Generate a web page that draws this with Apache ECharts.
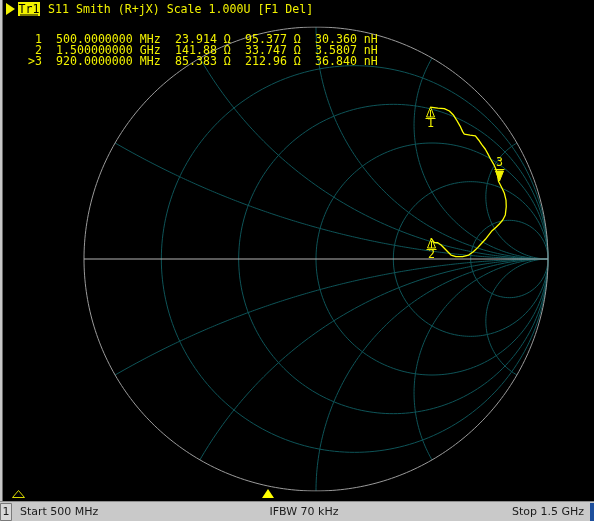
<!DOCTYPE html>
<html>
<head>
<meta charset="utf-8">
<script src="https://cdn.jsdelivr.net/npm/echarts@6/dist/echarts.min.js"></script>
<style>
  html, body { margin: 0; padding: 0; background: #000; }
  #chart { width: 594px; height: 521px; }
</style>
</head>
<body>
<div id="chart"></div>
<script>
// S11 trace as reflection coefficient, 500 MHz -> 1.5 GHz
const traceRe = [0.492,0.525,0.553,0.575,0.592,0.606,0.621,0.632,0.639,0.664,0.687,0.701,0.714,0.730,0.741,0.753,0.766,0.776,0.782,0.787,0.794,0.802,0.812,0.819,0.820,0.816,0.805,0.790,0.776,0.759,0.744,0.730,0.714,0.697,0.678,0.658,0.632,0.603,0.582,0.568,0.553,0.539,0.525,0.510,0.495];
const traceIm = [0.655,0.650,0.648,0.638,0.621,0.599,0.573,0.549,0.538,0.534,0.531,0.513,0.494,0.473,0.453,0.430,0.408,0.386,0.362,0.334,0.326,0.305,0.283,0.254,0.225,0.190,0.168,0.151,0.137,0.122,0.103,0.085,0.068,0.049,0.031,0.017,0.010,0.010,0.017,0.031,0.046,0.060,0.070,0.071,0.089];

// Marker readouts
const markerIds = ['1', '2', '3'];
const markerFreqs = [500, 1.5, 920];
const markerUnits = ['MHz', 'GHz', 'MHz'];
const markerR = [23.914, 141.88, 85.383];
const markerX = [95.377, 33.747, 212.96];
const markerL = [30.360, 3.5807, 36.840];
const activeMarker = 2;
const z0 = 50;

// Smith chart grid: constant resistance circles and constant reactance arcs
const gridR = [0.2, 0.5, 1, 2, 5];
const gridX = [0.268, 0.577, 1, 1.732, 3.732];

const headerText = 'S11 Smith (R+jX) Scale 1.000U [F1 Del]';
const statusStart = 'Start 500 MHz';
const statusIfbw = 'IFBW 70 kHz';
const statusStop = 'Stop 1.5 GHz';

const YELLOW = '#f2f200';
const GRID = '#0e5458';
const MONO = '11.6px "DejaVu Sans Mono", "Liberation Mono", monospace';

function gammaOf(R, X) {
  const r = R / z0, x = X / z0;
  const nr = r - 1, ni = x, dr = r + 1, di = x;
  const d = dr * dr + di * di;
  return [(nr * dr + ni * di) / d, (ni * dr - nr * di) / d];
}

function circlePoints(cx, cy, rad, a0, a1, n) {
  const pts = [];
  for (let i = 0; i <= n; i++) {
    const a = a0 + (a1 - a0) * i / n;
    pts.push([cx + rad * Math.cos(a), cy + rad * Math.sin(a)]);
  }
  return pts;
}

const series = [];
function gridLine(data, color) {
  series.push({
    type: 'line', data, symbol: 'none', silent: true, animation: false,
    lineStyle: { color, width: 1 }, z: 1
  });
}

gridR.forEach(r => {
  gridLine(circlePoints(r / (r + 1), 0, 1 / (r + 1), 0, 2 * Math.PI, 240), GRID);
});
gridX.forEach(x => {
  const c = 1 / x;
  const bRe = (x * x - 1) / (x * x + 1), bIm = 2 * x / (x * x + 1);
  let end = Math.atan2(bIm - c, bRe - 1);
  if (end > -Math.PI / 2) end -= 2 * Math.PI;
  const upper = circlePoints(1, c, c, -Math.PI / 2, end, 200);
  gridLine(upper, GRID);
  gridLine(upper.map(p => [p[0], -p[1]]), GRID);
});
// unit circle and real axis
gridLine(circlePoints(0, 0, 1, 0, 2 * Math.PI, 360), '#9a9a9a');
gridLine([[-1, 0], [1, 0]], '#b4b4b4');

// measured trace
series.push({
  type: 'line', symbol: 'none', animation: false, z: 5,
  data: traceRe.map((v, i) => [v, traceIm[i]]),
  lineStyle: { color: '#ffff00', width: 1.3 }
});

// markers drawn on the trace at their stated impedance
series.push({
  type: 'custom', animation: false, z: 6,
  data: markerIds.map((id, i) => {
    const g = gammaOf(markerR[i], markerX[i]);
    return [g[0], g[1], i];
  }),
  renderItem: (params, api) => {
    const p = api.coord([api.value(0), api.value(1)]);
    const idx = api.value(2);
    const x = Math.round(p[0]) + 0.5, y = Math.round(p[1]);
    const children = [];
    if (idx === activeMarker) {
      children.push({ type: 'polygon', shape: { points: [[x, y], [x - 4, y - 10], [x + 4, y - 10]] },
        style: { fill: YELLOW, stroke: YELLOW, lineWidth: 1 } });
      children.push({ type: 'line', shape: { x1: x - 5, y1: y - 11.5, x2: x + 5, y2: y - 11.5 },
        style: { stroke: YELLOW, lineWidth: 1 } });
      children.push({ type: 'text', style: { text: markerIds[idx], x: x, y: y - 18, font: MONO,
        fill: YELLOW, align: 'center', verticalAlign: 'middle' } });
    } else {
      children.push({ type: 'polygon', shape: { points: [[x, y], [x - 4, y + 10], [x + 4, y + 10]] },
        style: { fill: 'none', stroke: YELLOW, lineWidth: 1 } });
      children.push({ type: 'line', shape: { x1: x, y1: y + 3, x2: x, y2: y + 10 },
        style: { stroke: YELLOW, lineWidth: 1 } });
      children.push({ type: 'line', shape: { x1: x - 5, y1: y + 11.5, x2: x + 5, y2: y + 11.5 },
        style: { stroke: YELLOW, lineWidth: 1 } });
      children.push({ type: 'text', style: { text: markerIds[idx], x: x, y: y + 17, font: MONO,
        fill: YELLOW, align: 'center', verticalAlign: 'middle' } });
    }
    return { type: 'group', children };
  }
});

// readout block
const graphics = [];
const colW = 7, col0 = 35;
function mono(text, col, y, align) {
  graphics.push({ type: 'text', z: 10, silent: true,
    style: { text, x: col0 + col * colW, y, font: MONO, fill: YELLOW,
      align: align || 'left', verticalAlign: 'middle' } });
}
markerIds.forEach((id, i) => {
  const y = 40 + i * 11;
  mono((i === activeMarker ? '>' : '') + id, 1, y, 'right');
  mono(markerFreqs[i].toPrecision(10) + ' ' + markerUnits[i], 3, y);
  mono(markerR[i].toPrecision(5) + ' Ω', 20, y);
  mono(markerX[i].toPrecision(5) + ' Ω', 30, y);
  mono(markerL[i].toPrecision(5) + ' nH', 40, y);
});

// header line
graphics.push({ type: 'polygon', z: 10, shape: { points: [[6, 3], [15, 9], [6, 15]] }, style: { fill: YELLOW } });
graphics.push({ type: 'rect', z: 10, shape: { x: 18, y: 2, width: 22, height: 14 }, style: { fill: YELLOW } });
graphics.push({ type: 'text', z: 11, style: { text: 'Tr1', x: 29, y: 9.5, font: MONO, fill: '#000',
  align: 'center', verticalAlign: 'middle' } });
graphics.push({ type: 'line', z: 11, shape: { x1: 20, y1: 15, x2: 38, y2: 15 }, style: { stroke: '#000', lineWidth: 1 } });
graphics.push({ type: 'text', z: 10, style: { text: headerText, x: 48, y: 9.5, font: MONO, fill: YELLOW,
  verticalAlign: 'middle' } });

// left frame strip
graphics.push({ type: 'rect', z: 0, shape: { x: 0, y: 0, width: 2, height: 502 }, style: { fill: '#c8c8c8' } });
graphics.push({ type: 'rect', z: 0, shape: { x: 2, y: 0, width: 1, height: 502 }, style: { fill: '#6a6a6a' } });

// sweep position indicators
graphics.push({ type: 'polygon', z: 10, shape: { points: [[12.5, 497.5], [18.5, 490.5], [24.5, 497.5]] },
  style: { fill: 'none', stroke: '#d8d800', lineWidth: 1 } });
graphics.push({ type: 'polygon', z: 10, shape: { points: [[262, 498], [268, 489], [274, 498]] },
  style: { fill: '#ffff00' } });

// status bar
graphics.push({ type: 'rect', z: 10, shape: { x: 0, y: 501, width: 594, height: 20 }, style: { fill: '#c9c9c9' } });
graphics.push({ type: 'line', z: 11, shape: { x1: 0, y1: 501.5, x2: 594, y2: 501.5 }, style: { stroke: '#8c8c8c', lineWidth: 1 } });
graphics.push({ type: 'rect', z: 11, shape: { x: 0.5, y: 503.5, width: 11, height: 17 }, style: { fill: '#d8d8d8', stroke: '#7a7a7a', lineWidth: 1 } });
graphics.push({ type: 'rect', z: 11, shape: { x: 590, y: 503, width: 4, height: 18 }, style: { fill: '#1d4f9c' } });
const SANS = '11px "DejaVu Sans", "Liberation Sans", sans-serif';
function status(text, x, align) {
  graphics.push({ type: 'text', z: 12, style: { text, x, y: 512, font: SANS, fill: '#1a1a1a',
    align, verticalAlign: 'middle' } });
}
status('1', 6, 'center');
status(statusStart, 20, 'left');
status(statusIfbw, 304, 'center');
status(statusStop, 584, 'right');

const chart = echarts.init(document.getElementById('chart'), null, { renderer: 'canvas' });
chart.setOption({
  backgroundColor: '#000',
  animation: false,
  grid: { left: 84, top: 27, width: 464, height: 464 },
  xAxis: { type: 'value', min: -1, max: 1, show: false },
  yAxis: { type: 'value', min: -1, max: 1, show: false },
  series,
  graphic: graphics
});
</script>
</body>
</html>
